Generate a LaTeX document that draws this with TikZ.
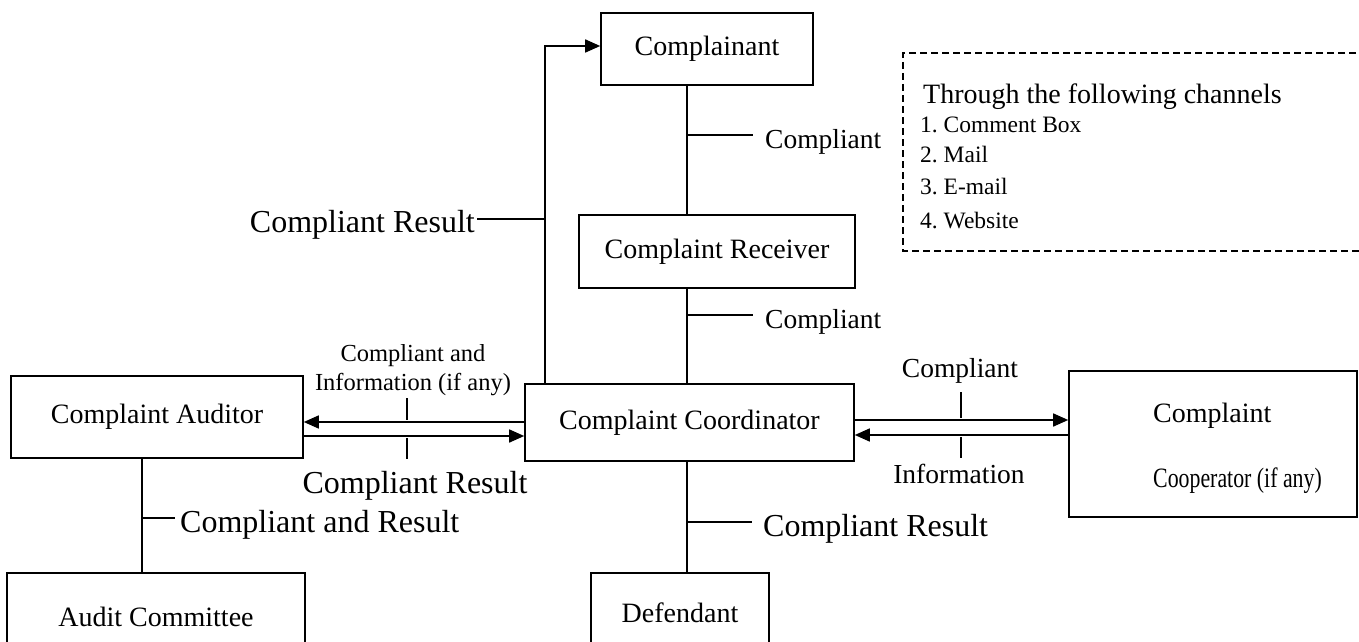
\documentclass[tikz,border=0pt]{standalone}
\usepackage{fontspec}
\setmainfont{Liberation Serif}
\usetikzlibrary{arrows.meta}
\frenchspacing
\newcommand{\fsbox}{\fontsize{28}{33}\selectfont}
\newcommand{\fsbig}{\fontsize{32}{38}\selectfont}
\newcommand{\fsmid}{\fontsize{27.5}{33}\selectfont}
\newcommand{\fssmall}{\fontsize{24.5}{29}\selectfont}
\newcommand{\fsitem}{\fontsize{23.5}{28}\selectfont}
\tikzset{
  ln/.style={line width=1.6pt, line cap=butt},
  arr/.style={-{Triangle[length=15pt,width=13pt]}},
  boxnode/.style={draw, line width=1.6pt, rectangle, inner sep=0pt, font=\fsbox},
  lbl/.style={inner sep=0pt, anchor=west},
}
\begin{document}
\begin{tikzpicture}[x=1pt,y=-1pt]
\useasboundingbox (0,0) rectangle (1359,642);
\clip (0,0) rectangle (1359,642);
% boxes
\node[boxnode, minimum width=212pt, minimum height=72pt] (complainant) at (707,49) {Complainant};
\node[boxnode, minimum width=276pt, minimum height=73pt] (receiver) at (717,251.5) {Complaint Receiver};
\node[boxnode, minimum width=329pt, minimum height=77pt] (coord) at (689.5,422.5) {Complaint Coordinator};
\node[boxnode, minimum width=292pt, minimum height=82pt] (aud) at (157,417) {Complaint Auditor};
\node[boxnode, minimum width=288pt, minimum height=146pt] (coop) at (1213,444) {};
\node[lbl, font=\fsbox] (coopa) at (1153,416) {Complaint};
\node[lbl, font=\fsbox] (coopb) at (1153,481) {\scalebox{0.78}[1]{Cooperator (if any)}};
\node[boxnode, minimum width=298pt, minimum height=88pt] (audcom) at (156,617) {Audit Committee};
\node[boxnode, minimum width=178pt, minimum height=80pt] (defendant) at (680,613) {Defendant};
% dashed channel box
\draw[line width=1.6pt, dash pattern=on 7pt off 4pt] (1400,53) -- (903,53) -- (903,251) -- (1400,251);
\node[lbl, font=\fsbox] (thr) at (923,97) {Through the following channels};
\node[lbl, font=\fsitem] (c1) at (920,125) {1. Comment Box};
\node[lbl, font=\fsitem] (c2) at (920,155) {2. Mail};
\node[lbl, font=\fsitem] (c3) at (920,187) {3. E-mail};
\node[lbl, font=\fsitem] (c4) at (920,221) {4. Website};
% vertical spine
\coordinate (vx) at (687,0);
\draw[ln] (complainant.south -| vx) -- (receiver.north -| vx);
\draw[ln] (receiver.south -| vx) -- (coord.north -| vx);
\draw[ln] (coord.south -| vx) -- (defendant.north -| vx);
\draw[ln] (687,135) -- (753,135);
\node[lbl, font=\fsmid] (l1) at (765,142) {Compliant};
\draw[ln] (687,315) -- (753,315);
\node[lbl, font=\fsmid] (l2) at (765,322) {Compliant};
\draw[ln] (687,522) -- (752,522);
\node[lbl, font=\fsbig] (l3) at (763,529) {Compliant Result};
% result to complainant
\coordinate (rx) at (545,0);
\draw[ln,arr] (coord.north -| rx) |- ([yshift=3pt]complainant.west);
\draw[ln] (545,219) -- (477,219);
\node[lbl, font=\fsbig, anchor=east] (l4) at (475,225) {Compliant Result};
% auditor arrows
\draw[ln,arr] (coord.west |- 0,422) -- (aud.east |- 0,422);
\draw[ln,arr] (aud.east |- 0,436) -- (coord.west |- 0,436);
\draw[ln] (407,398) -- (407,420);
\draw[ln] (407,438) -- (407,459);
\node[font=\fssmall, align=center, inner sep=0pt] (l5) at (413,370) {Compliant and\\Information (if any)};
\node[font=\fsbig, inner sep=0pt] (l6) at (415,486) {Compliant Result};
% cooperator arrows
\draw[ln,arr] (coord.east |- 0,420) -- (coop.west |- 0,420);
\draw[ln,arr] (coop.west |- 0,435) -- (coord.east |- 0,435);
\draw[ln] (961,392) -- (961,418);
\draw[ln] (961,437) -- (961,458);
\node[font=\fsmid, inner sep=0pt] (l7) at (960,371) {Compliant};
\node[font=\fsmid, inner sep=0pt] (l8) at (959,474) {Information};
% auditor to committee
\coordinate (ax) at (142,0);
\draw[ln] (aud.south -| ax) -- (audcom.north -| ax);
\draw[ln] (142,518) -- (175,518);
\node[lbl, font=\fsbig] (l9) at (180,525) {Compliant and Result};
\end{tikzpicture}
\end{document}
